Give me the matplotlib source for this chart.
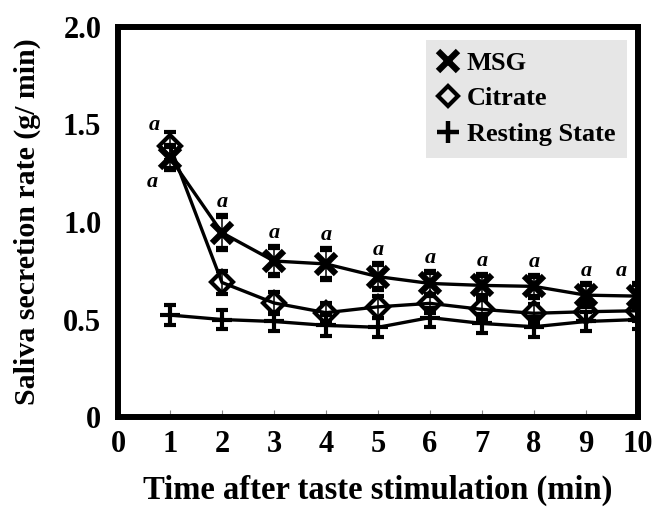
import numpy as np
import matplotlib
matplotlib.use("Agg")
import matplotlib.pyplot as plt
from matplotlib.lines import Line2D

# values (g/min)
t = [1, 2, 3, 4, 5, 6, 7, 8, 9, 10]
msg = [1.33, 0.945, 0.80, 0.785, 0.72, 0.685, 0.675, 0.67, 0.625, 0.62]
msg_err = [0.06, 0.085, 0.07, 0.075, 0.065, 0.06, 0.055, 0.055, 0.055, 0.06]
citrate = [1.39, 0.69, 0.585, 0.535, 0.565, 0.583, 0.552, 0.532, 0.54, 0.545]
citrate_err = [0.07, 0.06, 0.055, 0.05, 0.055, 0.05, 0.05, 0.05, 0.05, 0.05]
rest = [0.523, 0.50, 0.49, 0.47, 0.46, 0.51, 0.48, 0.463, 0.49, 0.50]
rest_err = [0.05, 0.05, 0.05, 0.055, 0.05, 0.05, 0.05, 0.05, 0.05, 0.05]
sig = ['a'] * 10

labels = ['MSG', 'Citrate', 'Resting State']
yticks = [0, 0.5, 1.0, 1.5, 2.0]
yticklabels = ['0', '0.5', '1.0', '1.5', '2.0']
xticks = list(range(11))

plt.rcParams['font.family'] = ['Liberation Serif', 'DejaVu Serif']
plt.rcParams['font.weight'] = 'bold'
plt.rcParams['axes.labelweight'] = 'bold'

fig = plt.figure(figsize=(6.59, 5.08), dpi=100)
ax = fig.add_axes([0.179, 0.179, 0.789, 0.768])

ebkw = dict(color='black', elinewidth=1.1, capsize=4, capthick=1.1, lw=2.4)
ax.errorbar(t, rest, yerr=rest_err, marker='+', ms=14, mew=3, **ebkw)
ax.errorbar(t, citrate, yerr=citrate_err, marker='D', ms=11, mew=3,
            mfc='none', mec='black', **ebkw)
ax.errorbar(t, msg, yerr=msg_err, marker='x', ms=15, mew=4.5, **ebkw)

# significance marks
afont = dict(fontsize=16, style='italic', weight='bold', ha='center', va='center')
for i in range(1, 10):
    dx = -12 if t[i] == 10 else 0
    ax.annotate(sig[i], (t[i], msg[i] + msg_err[i]), xytext=(dx, 10),
                textcoords='offset points', **afont)
ax.annotate(sig[0], (t[0], citrate[0] + citrate_err[0]), xytext=(-11, 5),
            textcoords='offset points', **afont)
ax.annotate(sig[0], (t[0], msg[0] - msg_err[0]), xytext=(-13, -9),
            textcoords='offset points', **afont)

ax.set_xlim(0, 10)
ax.set_ylim(0, 2.0)
ax.set_xticks(xticks)
ax.set_yticks(yticks)
ax.set_yticklabels(yticklabels)
ax.tick_params(axis='x', direction='in', length=5, width=0.8, color='#888888',
               labelsize=22, pad=9)
ax.tick_params(axis='y', length=0, labelsize=22, pad=12)
for s in ax.spines.values():
    s.set_linewidth(4.3)

ax.set_xlabel('Time after taste stimulation (min)', fontsize=23.5, labelpad=12)
ax.set_ylabel('Saliva secretion rate (g/ min)', fontsize=21.5, labelpad=16)

handles = [
    Line2D([], [], ls='none', marker='x', ms=15, mew=4.5, color='black'),
    Line2D([], [], ls='none', marker='D', ms=10, mew=3, mfc='none', mec='black'),
    Line2D([], [], ls='none', marker='+', ms=16, mew=3.2, color='black'),
]
leg = ax.legend(handles, labels, loc='upper right', bbox_to_anchor=(0.979, 0.967),
                fontsize=19, frameon=True, fancybox=False, facecolor='#e6e6e6',
                edgecolor='none', framealpha=1, handlelength=0.8,
                handletextpad=0.3, labelspacing=0.45, borderpad=0.45,
                borderaxespad=0)

fig.savefig('out.png', dpi=100)
